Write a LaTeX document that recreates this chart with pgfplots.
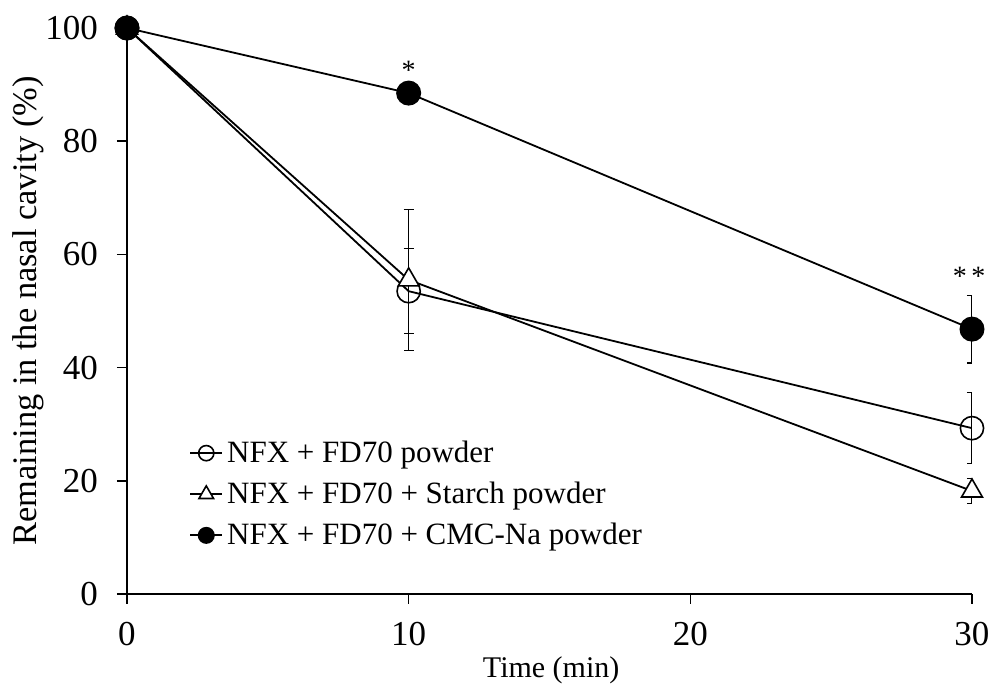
\documentclass[border=0pt]{standalone}
\usepackage{pgfplots}
\pgfplotsset{compat=1.18}
\usepackage{fontspec}
\setmainfont{Liberation Serif}
\begin{document}
\begin{tikzpicture}
\useasboundingbox (-63.5pt,-45pt) rectangle (432.5pt,297pt);
\begin{axis}[
  at={(0,0)}, anchor=south west,
  scale only axis, width=422.5pt, height=283pt,
  xmin=0, xmax=30, ymin=0, ymax=100,
  axis lines=left, axis line style={-, line width=0.8pt},
  xtick={0,10,20,30}, ytick={0,20,40,60,80,100},
  tick align=outside, major tick length=5pt,
  tick style={line width=0.8pt, black},
  /pgf/number format/assume math mode=true,
  ticklabel style={font=\fontsize{17.5}{20}\selectfont},
  xticklabel style={yshift=-5.5pt},
  yticklabel style={xshift=-6pt},
  xlabel={Time (min)},
  ylabel={Remaining in the nasal cavity (\%)},
  xlabel style={font=\fontsize{15}{18}\selectfont, at={(axis description cs:0.502,0)}, anchor=base, yshift=-42pt},
  ylabel style={font=\fontsize{17.2}{20}\selectfont, at={([xshift=-45pt]axis description cs:0,0.5)}, anchor=base},
  clip=true, clip mode=individual, clip marker paths=false,
  legend style={draw=none, fill=none, at={(axis cs:2.2,25)}, anchor=north west,
    font=\fontsize{15.5}{18}\selectfont, row sep=4.3pt, inner sep=0pt, yshift=8pt,
    /tikz/every even column/.append style={column sep=0pt}},
  legend cell align=left,
  every axis plot/.append style={line width=0.9pt, black},
  error bars/y dir=both, error bars/y explicit,
  error bars/error bar style={line width=0.6pt, black},
  error bars/error mark options={rotate=90, mark size=2.5pt, line width=0.6pt, black},
]
\addplot[mark=o, mark size=5.8pt, mark options={fill=white, line width=0.8pt},
  legend image code/.code={\draw[mark repeat=2,mark phase=2,mark size=3.8pt] plot coordinates {(0pt,0pt) (8pt,0pt) (16pt,0pt)};}]
  coordinates {(0,100) +- (0,0) (10,53.5) +- (0,7.5) (30,29.3) +- (0,6.3)};
\addlegendentry{NFX + FD70 powder}
\addplot[mark=triangle*, mark size=6pt, mark options={fill=white, line width=0.8pt},
  legend image code/.code={\draw[mark repeat=2,mark phase=2,mark size=4.2pt] plot coordinates {(0pt,0pt) (8pt,0pt) (16pt,0pt)};}]
  coordinates {(0,100) +- (0,0) (10,55.5) +- (0,12.5) (30,18.2) +- (0,2.2)};
\addlegendentry{NFX + FD70 + Starch powder}
\addplot[mark=*, mark size=5.8pt, mark options={fill=black},
  legend image code/.code={\draw[mark repeat=2,mark phase=2,mark size=3.8pt] plot coordinates {(0pt,0pt) (8pt,0pt) (16pt,0pt)};}]
  coordinates {(0,100) +- (0,0) (10,88.5) +- (0,0) (30,46.8) +- (0,6)};
\addlegendentry{NFX + FD70 + CMC-Na powder}
\node[font=\fontsize{14}{16}\selectfont] at (axis cs:10,92.6) {*};
\node[font=\fontsize{14}{16}\selectfont] at (axis cs:29.9,56.2) {*\,*};
\end{axis}
\end{tikzpicture}
\end{document}
